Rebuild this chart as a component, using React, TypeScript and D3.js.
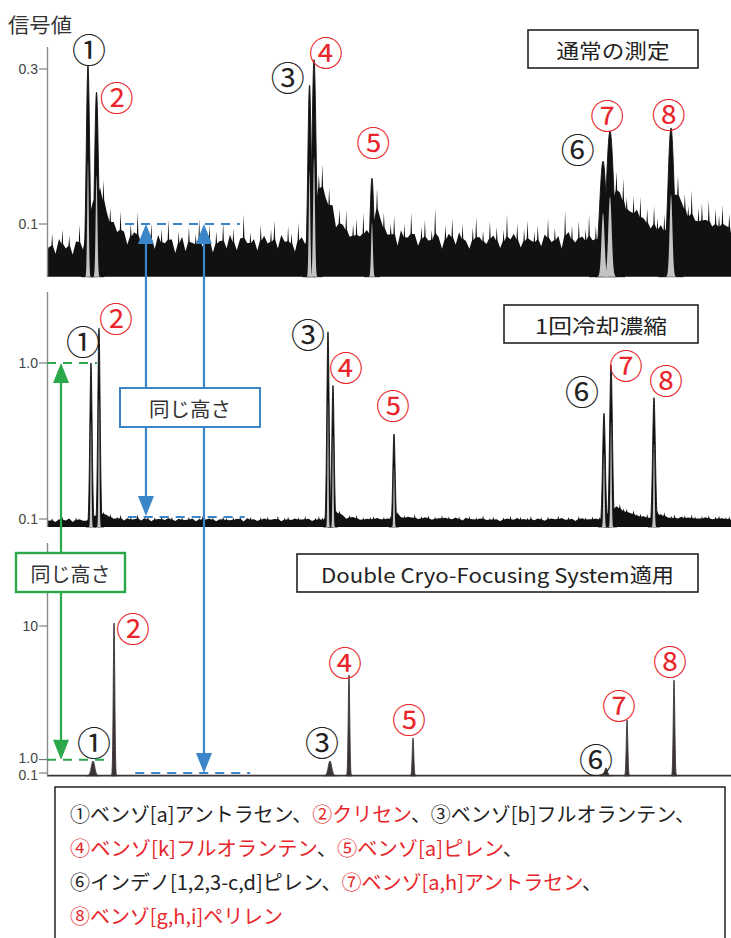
import React from "react";
import * as d3 from "d3";

const WIDTH = 731;
const HEIGHT = 938;

// ---------- shared ----------
const peakLabels = ["①", "②", "③", "④", "⑤", "⑥", "⑦", "⑧"];
const peakLabelRed = [false, true, false, true, true, false, true, true];

// ---------- panel 1 : 通常の測定 ----------
const p1Title = "通常の測定";
const p1Baseline = 0.032;
const p1Ticks = [0.3, 0.1];
const p1TickLabels = ["0.3", "0.1"];
const p1PeakTimes = [5.99, 7.24, 38.38, 39.04, 47.51, 81.29, 82.31, 91.23];
const p1PeakHeights = [0.304, 0.27, 0.279, 0.312, 0.159, 0.181, 0.22, 0.224];
const p1PeakSigma = [0.25, 0.28, 0.25, 0.3, 0.28, 0.5, 0.55, 0.45];
const p1LabelT = [6.14, 10.2, 35.2, 40.8, 47.7, 77.6, 81.9, 90.9];
const p1LabelV = [0.327, 0.264, 0.29, 0.323, 0.206, 0.198, 0.241, 0.243];
const p1Floor: [number, number][] = [
  [0, 0.065], [5.3, 0.067], [6.6, 0.13], [7.8, 0.13], [8.5, 0.114], [9.2, 0.095],
  [10.7, 0.082], [12.9, 0.075], [16.5, 0.069], [25, 0.068], [32, 0.07], [37.6, 0.069],
  [39.9, 0.144], [40.6, 0.126], [42.1, 0.101], [43.6, 0.082], [45.8, 0.075], [47.0, 0.078],
  [48.1, 0.112], [49.0, 0.089], [50.9, 0.076], [60, 0.072], [70, 0.071], [80.4, 0.073],
  [83.0, 0.137], [84.5, 0.114], [86.7, 0.098], [88.9, 0.089], [90.4, 0.082], [91.8, 0.14],
  [92.3, 0.125], [94.0, 0.101], [96.2, 0.093], [100, 0.088],
];
// noise excursions around the floor (thousandths), every 0.5 time units
const p1Noise = [
  4, 18, -3, 12, 22, 2, 15, -5, 9, 26, 0, 0, 0, 0, 0, 14, 30, 6, 21, 10,
  3, 28, 8, -4, 19, 11, 33, 1, 16, 7, 24, -2, 13, 20, 5, 29, 9, -5, 17, 12,
  -3, 22, 6, 15, 31, 2, 11, 25, -4, 18, 8, 27, 0, 14, 21, -2, 10, 35, 5, 16,
  9, -3, 24, 12, 4, 19, 28, -1, 13, 6, 22, 15, -4, 26, 11, 0, 0, 0, 0, 20,
  34, 8, 25, 14, -3, 21, 10, 29, 3, 17, 24, 7, 31, 12, 0, 0, 30, 9, 22, 2,
  16, 27, -3, 13, 20, 6, 32, 10, -2, 18, 25, 4, 15, 38, 8, -4, 21, 12, 28, 1,
  14, 23, 5, -3, 19, 30, 9, 16, 2, 26, 11, 20, -2, 17, 33, 7, 13, 24, -1, 18,
  27, 6, 15, 22, 0, 12, 29, 4, 19, 10, -3, 36, 14, 21, 3, 25, 9, 17, 31, 5,
  20, 0, 0, 0, 0, 0, 28, 12, 33, 18, 6, 25, 14, 30, 9, 21, 2, 27, 16, 11,
  24, 0, 0, 0, 29, 8, 22, 15, 35, 5, 19, 26, 10, 31, 4, 23, 17, 28, 7, 20,
];

// ---------- panel 2 : 1回冷却濃縮 ----------
const p2Title = "1回冷却濃縮";
const p2Baseline = 0.054;
const p2Ticks = [1.0, 0.1];
const p2TickLabels = ["1.0", "0.1"];
const p2PeakTimes = [6.43, 7.6, 41.08, 41.81, 50.73, 81.43, 82.46, 88.74];
const p2PeakHeights = [1.0, 1.2, 1.18, 0.87, 0.59, 0.71, 0.99, 0.8];
const p2PeakSigma = [0.17, 0.17, 0.17, 0.17, 0.17, 0.2, 0.2, 0.2];
const p2LabelT = [5.26, 10.09, 38.16, 43.71, 50.58, 78.22, 84.65, 90.5];
const p2LabelV = [1.127, 1.26, 1.168, 0.977, 0.758, 0.839, 0.994, 0.902];
const p2Floor: [number, number][] = [
  [0, 0.086], [5.8, 0.09], [6.9, 0.12], [8.2, 0.125], [9.5, 0.1], [12.1, 0.092],
  [25, 0.09], [40.4, 0.091], [42.3, 0.135], [43.6, 0.106], [45.8, 0.093], [50.2, 0.092],
  [51.3, 0.125], [52.3, 0.1], [65, 0.091], [80.8, 0.092], [83.2, 0.165], [84.5, 0.135],
  [86.7, 0.108], [88.2, 0.097], [89.3, 0.125], [90.8, 0.1], [100, 0.094],
];
const p2Noise = [
  5, 18, -4, 12, 25, 3, 14, -6, 20, 9, 0, 0, 0, 0, 0, 30, 16, 8, 24, 2,
  15, 28, -3, 11, 19, 6, 35, 0, 13, 22, -5, 17, 8, 26, 3, 14, 21, -2, 10, 18,
  4, 23, 12, -4, 16, 27, 7, 13, 20, -3, 9, 25, 15, 2, 18, 11, 30, -5, 14, 21,
  8, -2, 19, 13, 24, 5, 10, 28, -4, 16, 22, 3, 12, 19, 7, 26, 11, -3, 17, 26,
  18, 10, 31, 4, 15, 22, 8, -3, 20, 12, 27, 2, 16, 9, 21, 24, 14, 6, 19, 11,
  25, 3, 16, -4, 21, 13, 9, 29, 1, 17, 12, 23, -2, 15, 8, 26, 11, 19, 4, 14,
  20, -3, 13, 24, 6, 17, 10, 30, 2, 15, 22, 8, -4, 18, 12, 27, 5, 14, 21, 9,
  16, 26, 1, 12, 19, -2, 23, 11, 7, 28, 14, 4, 20, 10, -3, 25, 13, 17, 6, 22,
  11, 18, 7, 24, 13, 20, 9, 34, 20, 27, 9, 31, 16, 24, 12, 29, 8, 19, 22, 15,
  30, 8, 19, 26, 4, 14, 23, 10, 28, 17, 6, 21, 13, 25, 3, 18, 24, 9, 16, 20,
];

// ---------- panel 3 : Double Cryo-Focusing System適用 ----------
const p3Title = "Double Cryo-Focusing System適用";
const p3Baseline = -0.08;
const p3Ticks = [10, 1.0, 0.1];
const p3TickLabels = ["10", "1.0", "0.1"];
const p3PeakTimes = [6.73, 9.8, 41.37, 44.15, 53.51, 81.73, 84.8, 91.67];
const p3PeakHeights = [0.91, 10.2, 0.91, 6.7, 2.46, 0.44, 3.67, 6.36];
const p3PeakSigma = [0.25, 0.11, 0.25, 0.11, 0.11, 0.2, 0.11, 0.11];
const p3LabelT = [6.87, 12.57, 40.2, 43.57, 52.92, 80.26, 83.63, 91.08];
const p3LabelV = [2.25, 9.93, 2.19, 7.64, 3.74, 1.11, 4.68, 7.71];

// ---------- legend ----------
const legendLines: [string, boolean][][] = [
  [["①ベンゾ[a]アントラセン、", false], ["②クリセン", true], ["、③ベンゾ[b]フルオランテン、", false]],
  [["④ベンゾ[k]フルオランテン", true], ["、", false], ["⑤ベンゾ[a]ピレン", true], ["、", false]],
  [["⑥インデノ[1,2,3-c,d]ピレン、", false], ["⑦ベンゾ[a,h]アントラセン", true], ["、", false]],
  [["⑧ベンゾ[g,h,i]ペリレン", true]],
];
const legendLineWidths = [625, 453, 532, 213];

const sameHeightText = "同じ高さ";
const yAxisTitle = "信号値";

const RED = "#e8262b";
const INK = "#222";
const BLUE = "#3a86c8";
const GREEN = "#2aa84a";
const JP = "'Noto Sans CJK JP', 'Noto Sans', sans-serif";

type Pt = [number, number];

function noisePoints(floor: Pt[], noise: number[], step: number, unit: number): Pt[] {
  const fx = d3
    .scaleLinear()
    .domain(floor.map((d) => d[0]))
    .range(floor.map((d) => d[1]))
    .clamp(true);
  const pts: Pt[] = [[0, fx(0)]];
  const d = step * 0.22;
  noise.forEach((s, i) => {
    const t = step * (i + 0.5);
    const v = fx(t) + s * unit;
    if (s > 14) {
      pts.push([t - d, fx(t) + s * 0.3 * unit], [t, v], [t + d, fx(t) + s * 0.3 * unit]);
    } else {
      pts.push([t, v]);
    }
  });
  pts.push([100, fx(100)]);
  return pts;
}

function peakPoints(c: number, h: number, s: number, base: number, frac = 1, wfrac = 1): Pt[] {
  const sig = s * wfrac;
  const pts: Pt[] = [];
  for (let k = -40; k <= 40; k++) {
    const z = k / 10;
    pts.push([c + z * sig, base + (h - base) * frac * Math.exp(-0.5 * z * z)]);
  }
  return pts;
}

interface PanelCfg {
  y: d3.ScaleLinear<number, number>;
  axisTop: number;
  base: number;
  ticks: number[];
  tickLabels: string[];
  tickNudge: number[];
  times: number[];
  heights: number[];
  sigma: number[];
  labelT: number[];
  labelV: number[];
  floor?: Pt[];
  noise?: number[];
  noiseStep?: number;
  noiseUnit?: number;
  innerFrac: number;
  innerW: number;
  peakColor: string;
  box: { x: number; y: number; w: number; h: number; text: string; tl: number };
}

function Panel({ cfg, x }: { cfg: PanelCfg; x: d3.ScaleLinear<number, number> }) {
  const { y } = cfg;
  const y0 = y(cfg.base);
  const area = d3
    .area<Pt>()
    .x((d) => x(d[0]))
    .y0(y0)
    .y1((d) => y(d[1]));
  return (
    <g>
      {cfg.floor && cfg.noise && (
        <path
          d={area(noisePoints(cfg.floor, cfg.noise, cfg.noiseStep || 1, cfg.noiseUnit || 0.001)) || ""}
          fill="#111"
        />
      )}
      {!cfg.floor && (
        <line x1={x(0)} x2={x(100)} y1={y0} y2={y0} stroke="#3b3434" strokeWidth={1.8} />
      )}
      {cfg.times.map((t, i) => (
        <path
          key={"p" + i}
          d={area(peakPoints(t, cfg.heights[i], cfg.sigma[i], cfg.base)) || ""}
          fill={cfg.peakColor}
          stroke={cfg.peakColor}
          strokeWidth={0.9}
        />
      ))}
      {cfg.innerFrac > 0 &&
        cfg.times.map((t, i) => (
          <path
            key={"g" + i}
            d={area(peakPoints(t, cfg.heights[i], cfg.sigma[i], cfg.base, cfg.innerFrac, cfg.innerW)) || ""}
            fill="#c4c4c4"
          />
        ))}
      <line x1={47.5} x2={47.5} y1={cfg.axisTop} y2={y0} stroke="#8a8a8a" strokeWidth={1.4} />
      {cfg.ticks.map((v, i) => (
        <g key={"t" + i}>
          <line x1={39} x2={47} y1={y(v)} y2={y(v)} stroke="#666" strokeWidth={1} />
          <text
            x={38}
            y={y(v) + cfg.tickNudge[i]}
            textAnchor="end"
            dominantBaseline="central"
            fontSize={14}
            fill="#444"
            fontFamily="'Liberation Sans', Arial, sans-serif"
          >
            {cfg.tickLabels[i]}
          </text>
        </g>
      ))}
      {cfg.labelT.map((t, i) => (
        <text
          key={"l" + i}
          x={x(t)}
          y={y(cfg.labelV[i])}
          textAnchor="middle"
          dominantBaseline="central"
          fontSize={34}
          fill={peakLabelRed[i] ? RED : INK}
          fontFamily={JP}
        >
          {peakLabels[i]}
        </text>
      ))}
      <rect
        x={cfg.box.x}
        y={cfg.box.y}
        width={cfg.box.w}
        height={cfg.box.h}
        fill="#fff"
        stroke="#222"
        strokeWidth={1.6}
      />
      <text
        x={cfg.box.x + cfg.box.w / 2}
        y={cfg.box.y + cfg.box.h / 2 + 1}
        textAnchor="middle"
        dominantBaseline="central"
        fontSize={20}
        fill="#222"
        fontFamily={JP}
        textLength={cfg.box.tl}
        lengthAdjust="spacingAndGlyphs"
      >
        {cfg.box.text}
      </text>
    </g>
  );
}

function arrowHead(xp: number, tip: number, dir: number) {
  // dir = 1 → pointing up (base below tip); dir = -1 → pointing down
  return `M${xp},${tip} L${xp - 8},${tip + dir * 20} L${xp + 8},${tip + dir * 20} Z`;
}

export default function App() {
  const x = d3.scaleLinear().domain([0, 100]).range([47, 731]);
  const y1 = d3.scaleLinear().domain([0.1, 0.3]).range([224, 69]);
  const y2 = d3.scaleLinear().domain([0.1, 1.0]).range([519, 363]);
  const y3 = d3.scaleLinear().domain([0.1, 10]).range([773, 626]);

  const panels: PanelCfg[] = [
    {
      y: y1, axisTop: 47, base: p1Baseline, ticks: p1Ticks, tickLabels: p1TickLabels, tickNudge: [0, 0],
      times: p1PeakTimes, heights: p1PeakHeights, sigma: p1PeakSigma,
      labelT: p1LabelT, labelV: p1LabelV, floor: p1Floor, noise: p1Noise, noiseStep: 0.5, noiseUnit: 0.00125,
      innerFrac: 0.55, innerW: 0.45, peakColor: "#111",
      box: { x: 528, y: 30, w: 170, h: 38, text: p1Title, tl: 113 },
    },
    {
      y: y2, axisTop: 292, base: p2Baseline, ticks: p2Ticks, tickLabels: p2TickLabels, tickNudge: [0, 0],
      times: p2PeakTimes, heights: p2PeakHeights, sigma: p2PeakSigma,
      labelT: p2LabelT, labelV: p2LabelV, floor: p2Floor, noise: p2Noise, noiseStep: 0.5, noiseUnit: 0.001,
      innerFrac: 0.65, innerW: 0.45, peakColor: "#111",
      box: { x: 504, y: 305, w: 194, h: 38, text: p2Title, tl: 132 },
    },
    {
      y: y3, axisTop: 543, base: p3Baseline, ticks: p3Ticks, tickLabels: p3TickLabels, tickNudge: [0, -1.5, 1.5],
      times: p3PeakTimes, heights: p3PeakHeights, sigma: p3PeakSigma,
      labelT: p3LabelT, labelV: p3LabelV,
      innerFrac: 0, innerW: 0, peakColor: "#3b3434",
      box: { x: 297, y: 554, w: 401, h: 38, text: p3Title, tl: 353 },
    },
  ];

  // annotation geometry (data units)
  const blueT1 = 14.47;
  const blueT2 = 22.95;
  const greenT = 2.05;

  const yb1 = y1(0.1);
  const yb2 = y2(0.1);
  const yb3 = y3(0.1);
  const yg2 = y2(1.0);
  const yg3 = y3(1.0);

  return (
    <svg
      width={WIDTH}
      height={HEIGHT}
      style={{ position: "absolute", left: 0, top: 0, background: "#fff" }}
    >
      <rect x={0} y={0} width={WIDTH} height={HEIGHT} fill="#fff" />
      <text x={8} y={24} dominantBaseline="central" fontSize={20} fill="#333" fontFamily={JP} textLength={64} lengthAdjust="spacingAndGlyphs">
        {yAxisTitle}
      </text>

      {panels.map((p, i) => (
        <Panel key={i} cfg={p} x={x} />
      ))}

      {/* dashed reference lines */}
      <g strokeDasharray="9 7" strokeWidth={2} fill="none">
        <line x1={x(11.4)} x2={x(28.2)} y1={yb1} y2={yb1} stroke={BLUE} />
        <line x1={x(11.8)} x2={x(28.9)} y1={yb2 - 2} y2={yb2 - 2} stroke={BLUE} />
        <line x1={x(12.9)} x2={x(29.7)} y1={yb3} y2={yb3} stroke={BLUE} />
        <line x1={x(0)} x2={x(7.3)} y1={yg2} y2={yg2} stroke={GREEN} />
        <line x1={x(0)} x2={x(8.8)} y1={yg3} y2={yg3} stroke={GREEN} />
      </g>

      {/* blue arrows */}
      <line x1={x(blueT1)} x2={x(blueT1)} y1={yb1 + 18} y2={yb2 - 2 - 18} stroke={BLUE} strokeWidth={2.2} />
      <path d={arrowHead(x(blueT1), yb1, 1)} fill={BLUE} />
      <path d={arrowHead(x(blueT1), yb2 - 3, -1)} fill={BLUE} />
      <line x1={x(blueT2)} x2={x(blueT2)} y1={yb1 + 18} y2={yb3 - 18} stroke={BLUE} strokeWidth={2.2} />
      <path d={arrowHead(x(blueT2), yb1, 1)} fill={BLUE} />
      <path d={arrowHead(x(blueT2), yb3, -1)} fill={BLUE} />

      {/* green arrow */}
      <line x1={x(greenT)} x2={x(greenT)} y1={yg2 + 18} y2={yg3 - 18} stroke={GREEN} strokeWidth={2.2} />
      <path d={arrowHead(x(greenT), yg2, 1)} fill={GREEN} />
      <path d={arrowHead(x(greenT), yg3, -1)} fill={GREEN} />

      {/* same-height boxes */}
      <rect x={120} y={388} width={140} height={39} fill="#fff" stroke={BLUE} strokeWidth={2} />
      <text x={190} y={408} textAnchor="middle" dominantBaseline="central" fontSize={20} fill="#333" fontFamily={JP} textLength={82} lengthAdjust="spacingAndGlyphs">
        {sameHeightText}
      </text>
      <rect x={16} y={553} width={109} height={39} fill="#fff" stroke={GREEN} strokeWidth={2.4} />
      <text x={70.5} y={573} textAnchor="middle" dominantBaseline="central" fontSize={20} fill="#333" fontFamily={JP} textLength={80} lengthAdjust="spacingAndGlyphs">
        {sameHeightText}
      </text>

      {/* legend */}
      <rect x={55} y={787} width={670} height={170} fill="#fff" stroke="#222" strokeWidth={1.5} />
      {legendLines.map((segs, li) => (
        <text
          key={li}
          x={70}
          y={813 + li * 34}
          dominantBaseline="central"
          fontSize={20}
          fontFamily={JP}
          textLength={legendLineWidths[li]}
          lengthAdjust="spacingAndGlyphs"
        >
          {segs.map(([s, red], si) => (
            <tspan key={si} fill={red ? RED : INK}>
              {s}
            </tspan>
          ))}
        </text>
      ))}
    </svg>
  );
}
